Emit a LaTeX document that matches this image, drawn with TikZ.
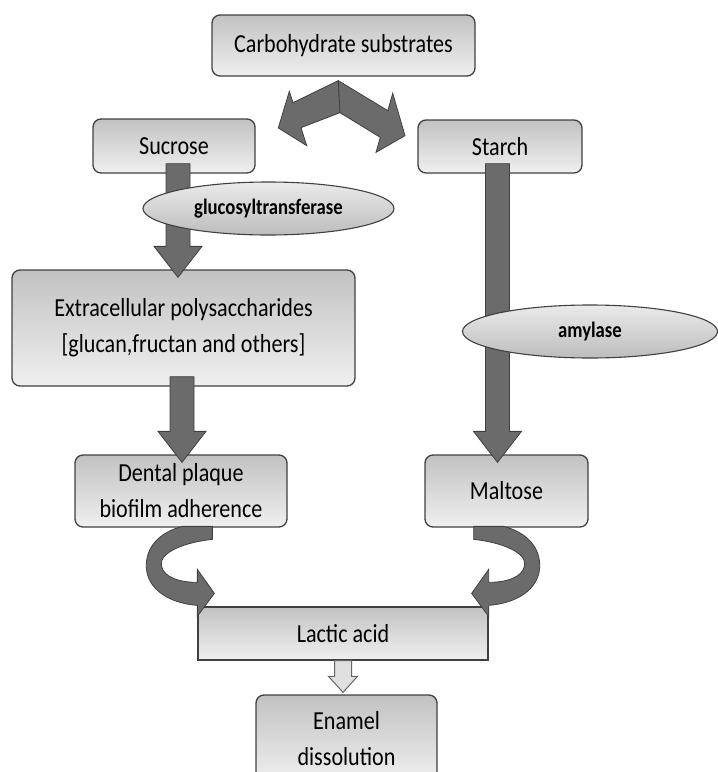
\documentclass[tikz,border=0pt]{standalone}
\usepackage{fontspec}
\setmainfont{Carlito}
\usepackage{graphicx}
\usetikzlibrary{shapes.geometric,calc}

% 窄字形（原图文字横向压缩）
\newcommand{\nar}[1]{\scalebox{0.85}[1]{#1}}
% 竖直粗箭头：#1 = x，#2 -> #3
\newcommand{\blkarrow}[3]{%
  \path[blk] let \p1=(#2.south), \p2=(#3.north) in
    (#1pt-12pt,\y1+10pt) -- (#1pt+12pt,\y1+10pt) -- (#1pt+12pt,\y2+23pt)
    -- (#1pt+24pt,\y2+23pt) -- (#1pt,\y2-8pt) -- (#1pt-24pt,\y2+23pt)
    -- (#1pt-12pt,\y2+23pt) -- cycle;}

\begin{document}
\begin{tikzpicture}[x=1pt,y=-1pt,line width=0.8pt,
  box/.style={draw=black!75,line width=1.3pt,rounded corners=8pt,
    top color=black!24,bottom color=black!6,inner sep=0pt,align=center,
    font=\fontsize{26}{36}\selectfont},
  enz/.style={ellipse,draw=black!75,line width=1.1pt,top color=black!8,
    bottom color=black!26,inner sep=0pt,font=\fontsize{22}{26}\selectfont\bfseries},
  blk/.style={fill=black!58,draw=black!75,line width=0.8pt},
  hol/.style={fill=black!12,draw=black!60,line width=1pt}]
\useasboundingbox (0,0) rectangle (718,772);
% 方框
\node[box,minimum width=263pt,minimum height=61pt] (carb) at (343.5,45.5) {\nar{Carbohydrate substrates}};
\node[box,minimum width=162pt,minimum height=54pt] (suc) at (174,146) {\nar{Sucrose}};
\node[box,minimum width=164pt,minimum height=53pt] (sta) at (500,146.5) {\nar{Starch}};
\node[box,minimum width=343pt,minimum height=116pt] (ext) at (183.5,328)
  {\nar{Extracellular polysaccharides}\\\nar{[glucan,fructan and others]}};
\node[box,minimum width=212pt,minimum height=72pt] (dp) at (181,491)
  {\nar{Dental plaque}\\\nar{biofilm adherence}};
\node[box,minimum width=163pt,minimum height=72pt] (mal) at (506.5,491) {\nar{Maltose}};
\node[box,sharp corners,minimum width=290pt,minimum height=53pt] (lac) at (343,633.5) {\nar{Lactic acid}};
\node[box,minimum width=181pt,minimum height=87pt] (ena) at (346.5,738.5)
  {\nar{Enamel}\\\nar{dissolution}};
% 分叉箭头
\begin{scope}[shift={(carb.south)}]
\path[blk] (-5.2,4) -- (-50.5,26) -- (-54.2,14.7) -- (-65.2,51.3) -- (-36.8,69)
  -- (-42.5,51) -- (-3.5,36) -- cycle;
\path[blk] (-5.2,4) -- (44.3,34) -- (49.2,16.7) -- (61.5,59) -- (32.5,75.7)
  -- (36.8,60.7) -- (-3.5,36) -- cycle;
\end{scope}
% 竖直箭头
\blkarrow{178}{suc}{ext}
\blkarrow{182}{ext}{dp}
\blkarrow{497.5}{sta}{mal}
% 弯箭头（左、右对称）
\begin{scope}[shift={(lac.north west)}]
\path[blk] (-15,-80) -- (15,-80) -- (15,-67) .. controls (-13,-64) and (-38,-54) .. (-36,-41)
  .. controls (-34,-29) and (-18,-24) .. (0,-24) -- (0,-37) -- (17,-13) -- (0,10) -- (0,-1)
  .. controls (-28,-3) and (-50,-17) .. (-51,-39) .. controls (-52,-59) and (-38,-74) .. (-15,-80) -- cycle;
\end{scope}
\begin{scope}[shift={(lac.north east)},xscale=-1]
\path[blk] (-15,-80) -- (15,-80) -- (15,-67) .. controls (-13,-64) and (-38,-54) .. (-36,-41)
  .. controls (-34,-29) and (-18,-24) .. (0,-24) -- (0,-37) -- (17,-13) -- (0,10) -- (0,-1)
  .. controls (-28,-3) and (-50,-17) .. (-51,-39) .. controls (-52,-59) and (-38,-74) .. (-15,-80) -- cycle;
\end{scope}
% 空心箭头
\path[hol] let \p1=(lac.south), \p2=(ena.north) in
  (\x1-8.5pt,\y1) -- (\x1+8.5pt,\y1) -- (\x1+8.5pt,\y2+18pt) -- (\x1+14.5pt,\y2+18pt)
  -- (\x1,\y2+2pt) -- (\x1-14.5pt,\y2+18pt) -- (\x1-8.5pt,\y2+18pt) -- cycle;
% 酶（椭圆）
\node[enz,minimum width=251pt,minimum height=53pt] (gtf) at (268.5,208.5) {\nar{glucosyltransferase}};
\node[enz,minimum width=255pt,minimum height=53pt] (amy) at (590,331.5) {\nar{amylase}};
\end{tikzpicture}
\end{document}
